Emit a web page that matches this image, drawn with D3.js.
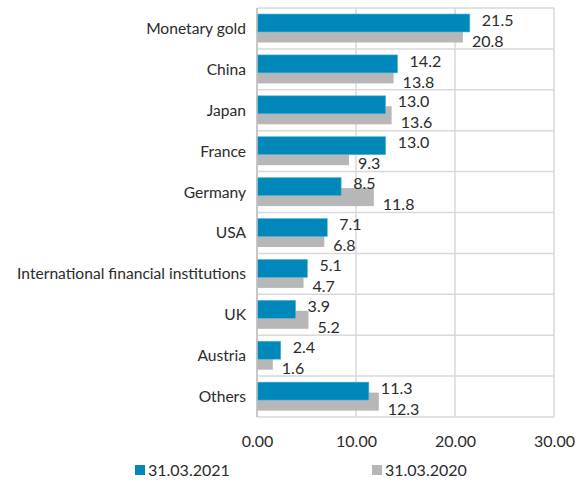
<!DOCTYPE html>
<html><head><meta charset="utf-8">
<script src="https://cdn.jsdelivr.net/npm/d3@7"></script>
<style>body{margin:0;background:#fff}svg{display:block}text{font-family:Lato,"Open Sans",sans-serif;fill:#2b2b2b}</style>
</head><body><svg id="c" width="584" height="482"></svg>
<script>
const categories = ["Monetary gold","China","Japan","France","Germany","USA","International financial institutions","UK","Austria","Others"];
const series2021 = [21.5,14.2,13.0,13.0,8.5,7.1,5.1,3.9,2.4,11.3];
const series2020 = [20.8,13.8,13.6,9.3,11.8,6.8,4.7,5.2,1.6,12.3];
const seriesNames = ["31.03.2021","31.03.2020"];
const xTicks = [0,10,20,30];

const colors = {a:"#0088bb", b:"#b7b7b7", grid:"#d9d9d9"};
const svg = d3.select("#c");
const L=257,R=554,T=8,B=417;
const x = d3.scaleLinear().domain([0,30]).range([L,R]);
const y = d3.scaleBand().domain(categories).range([T,B]);
const bw = y.bandwidth();

// grid
const g = svg.append("g");
g.selectAll("line.h").data(d3.range(categories.length+1)).join("line")
  .attr("x1",L).attr("x2",R).attr("y1",i=>T+i*bw).attr("y2",i=>T+i*bw)
  .attr("stroke",colors.grid).attr("stroke-width",1.5);
g.selectAll("line.v").data(xTicks).join("line")
  .attr("x1",d=>x(d)).attr("x2",d=>x(d)).attr("y1",T).attr("y2",B)
  .attr("stroke",colors.grid).attr("stroke-width",1.5);

const barH = 18;
// grey bars (behind)
svg.append("g").selectAll("rect").data(categories).join("rect")
  .attr("x",x(0)).attr("y",(d)=>y(d)+16.5).attr("height",barH)
  .attr("width",(d,i)=>x(series2020[i])-x(0)).attr("fill",colors.b);
// blue bars
svg.append("g").selectAll("rect").data(categories).join("rect")
  .attr("x",x(0)).attr("y",(d)=>y(d)+6).attr("height",barH)
  .attr("width",(d,i)=>x(series2021[i])-x(0)).attr("fill",colors.a)
  .attr("stroke","#5bb8dd").attr("stroke-width",0.6);

// left axis line
svg.append("line").attr("x1",L).attr("x2",L).attr("y1",T).attr("y2",B).attr("stroke","#bfbfbf").attr("stroke-width",1.5);

// value labels
const fs = 16, fsCat = 15.6;
svg.append("g").selectAll("text").data(categories).join("text")
  .attr("x",(d,i)=>x(series2021[i])+12).attr("y",d=>y(d)+12).attr("dy","0.35em")
  .attr("font-size",fs).text((d,i)=>series2021[i].toFixed(1));
svg.append("g").selectAll("text").data(categories).join("text")
  .attr("x",(d,i)=>x(series2020[i])+9).attr("y",d=>y(d)+33).attr("dy","0.35em")
  .attr("font-size",fs).text((d,i)=>series2020[i].toFixed(1));

// category labels
svg.append("g").selectAll("text").data(categories).join("text")
  .attr("x",246).attr("y",d=>y(d)+bw/2).attr("dy","0.35em").attr("text-anchor","end")
  .attr("font-size",fsCat).text(d=>d);

// x axis
const xa = svg.append("g").attr("transform",`translate(0,${B})`)
  .call(d3.axisBottom(x).tickValues(xTicks).tickFormat(d3.format(".2f")).tickSize(0).tickPadding(19));
xa.select(".domain").remove();
xa.selectAll("text").attr("font-size",fs).attr("font-family","Lato,sans-serif").attr("fill","#2b2b2b");

// legend
const leg = [{n:seriesNames[0],c:colors.a,x:135},{n:seriesNames[1],c:colors.b,x:372}];
const lg = svg.append("g").selectAll("g").data(leg).join("g").attr("transform",d=>`translate(${d.x},465)`);
lg.append("rect").attr("width",10).attr("height",10).attr("fill",d=>d.c);
lg.append("text").attr("x",13).attr("y",5).attr("dy","0.35em").attr("font-size",fs).text(d=>d.n);
</script></body></html>
